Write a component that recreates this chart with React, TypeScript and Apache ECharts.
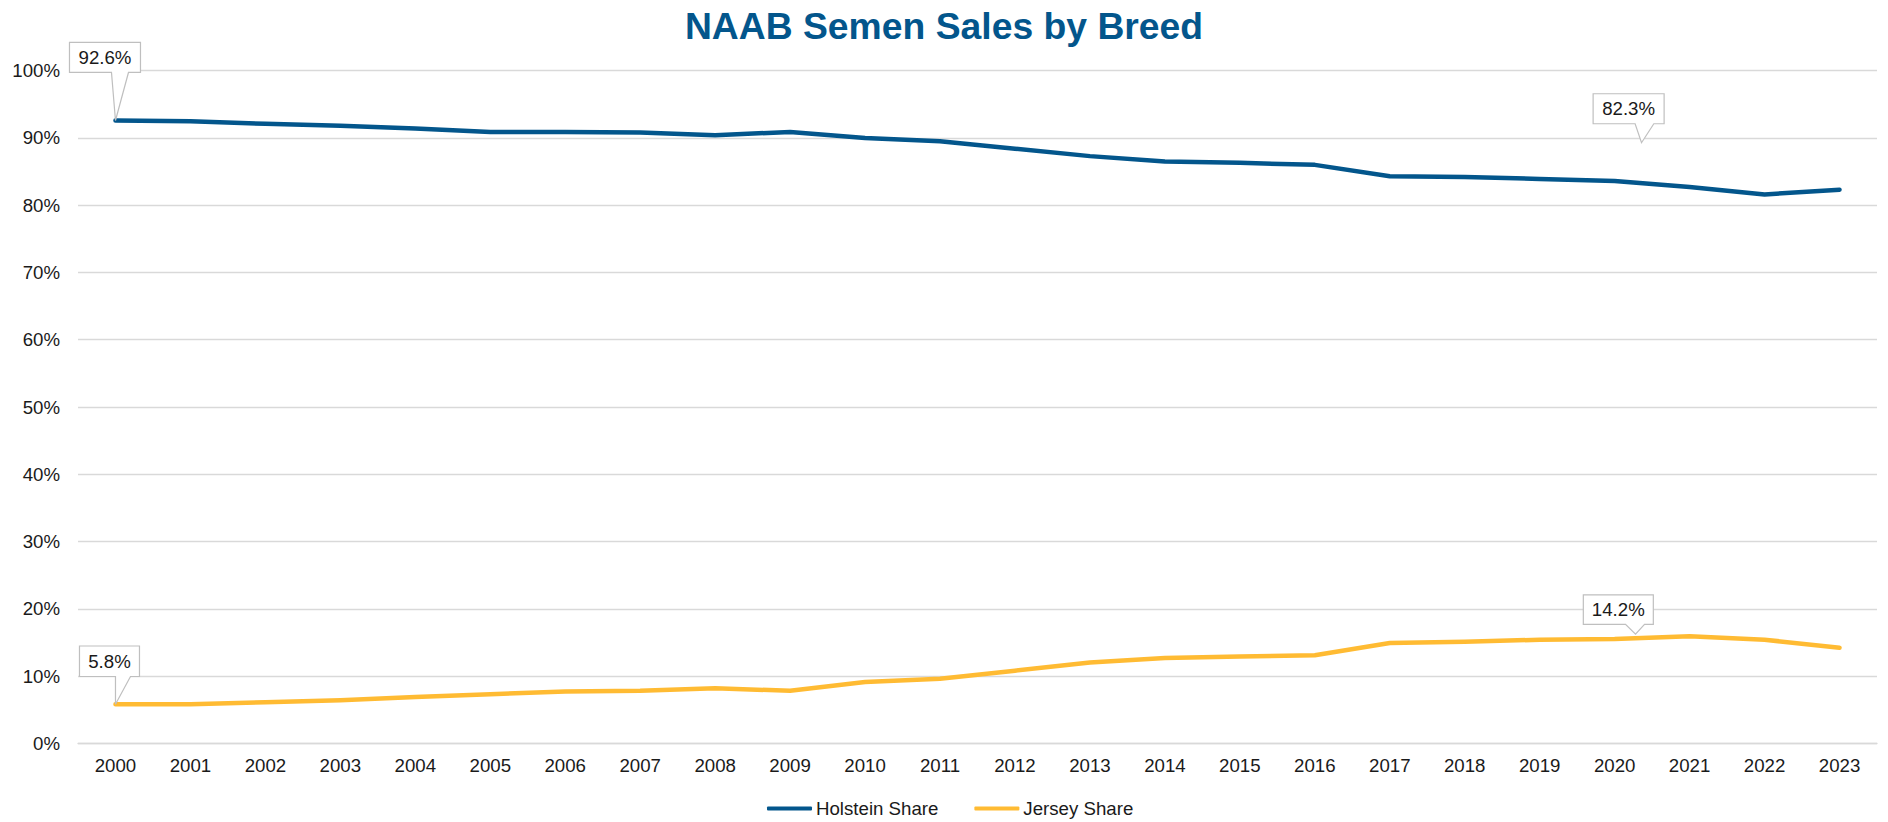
import React, { useEffect, useRef } from "react";
import * as echarts from "echarts";

const TITLE = "NAAB Semen Sales by Breed";
const years = ["2000","2001","2002","2003","2004","2005","2006","2007","2008","2009","2010","2011","2012","2013","2014","2015","2016","2017","2018","2019","2020","2021","2022","2023"];
const holsteinShare = [92.6, 92.5, 92.1, 91.8, 91.4, 90.9, 90.9, 90.8, 90.4, 90.9, 90.0, 89.5, 88.4, 87.3, 86.5, 86.3, 86.0, 84.3, 84.2, 83.9, 83.6, 82.7, 81.6, 82.3];
const jerseyShare = [5.8, 5.8, 6.1, 6.4, 6.9, 7.3, 7.7, 7.8, 8.2, 7.8, 9.1, 9.6, 10.8, 12.0, 12.7, 12.9, 13.1, 14.9, 15.1, 15.4, 15.5, 15.9, 15.4, 14.2];
const seriesNames = ["Holstein Share", "Jersey Share"];
const yMin = 0;
const yMax = 100;
const yStep = 10;

// callouts: which series / point they annotate
const calloutPoints = [
  { series: 0, index: 0 },
  { series: 0, index: 23 },
  { series: 1, index: 0 },
  { series: 1, index: 23 },
];
// callout layout (pixel offsets relative to anchor point)
const calloutLayout = [
  { left: -46, width: 71, top: -78, height: 30, base: [-4, 13], tip: [0, 0] },
  { left: -246.4, width: 71, top: -96, height: 30, base: [-204.4, -185.7], tip: [-198, -47] },
  { left: -36, width: 60, top: -58.3, height: 30.5, base: [0, 15], tip: [0, 0] },
  { left: -256.2, width: 70, top: -52.9, height: 29.5, base: [-214, -195], tip: [-204, -13.6] },
];

const BLUE = "#03568C";
const GOLD = "#FFBB33";
const FONT = "'Liberation Sans', Arial, sans-serif";
const TEXT = "#1A1A1A";
const GRID = "#D9D9D9";

export default function App() {
  const ref = useRef<HTMLDivElement>(null);
  useEffect(() => {
    document.body.style.margin = "0";
    const el = ref.current!;
    const chart = echarts.init(el, null, { renderer: "svg" });
    const seriesData = [holsteinShare, jerseyShare];
    chart.setOption({
      animation: false,
      backgroundColor: "#fff",
      textStyle: { fontFamily: FONT },
      title: {
        text: TITLE,
        left: "center",
        top: 2,
        textStyle: { fontFamily: FONT, fontSize: 37.3, fontWeight: "bold", color: BLUE },
      },
      grid: { left: 78, right: 11, top: 70.7, bottom: 78.7, containLabel: false },
      legend: {
        left: 767,
        top: 799,
        padding: 0,
        icon: "roundRect",
        itemWidth: 45,
        itemHeight: 4,
        itemGap: 36,
        textStyle: { fontFamily: FONT, fontSize: 18.67, color: TEXT, padding: [0, 0, 0, -1] },
        data: seriesNames,
      },
      xAxis: {
        type: "category",
        data: years,
        boundaryGap: true,
        axisTick: { show: false },
        axisLine: { show: true, lineStyle: { color: GRID, width: 1.3 } },
        axisLabel: { margin: 13, fontSize: 18.67, color: TEXT, fontFamily: FONT },
      },
      yAxis: {
        type: "value",
        min: yMin,
        max: yMax,
        interval: yStep,
        axisLabel: { formatter: "{value}%", margin: 18, fontSize: 18.67, color: TEXT, fontFamily: FONT },
        axisLine: { show: false },
        axisTick: { show: false },
        splitLine: { lineStyle: { color: GRID, width: 1.3 } },
      },
      series: [
        {
          name: seriesNames[0],
          type: "line",
          data: holsteinShare,
          showSymbol: false,
          symbol: "none",
          lineStyle: { color: BLUE, width: 4.5, cap: "round", join: "round" },
          itemStyle: { color: BLUE },
        },
        {
          name: seriesNames[1],
          type: "line",
          data: jerseyShare,
          showSymbol: false,
          symbol: "none",
          lineStyle: { color: GOLD, width: 4.5, cap: "round", join: "round" },
          itemStyle: { color: GOLD },
        },
      ],
    });

    const graphics: any[] = [];
    calloutPoints.forEach((cp, i) => {
      const val = seriesData[cp.series][cp.index];
      const [ax, ay] = chart.convertToPixel({ seriesIndex: cp.series }, [cp.index, val]) as number[];
      const g = calloutLayout[i];
      const L = ax + g.left;
      const R = L + g.width;
      const T = ay + g.top;
      const B = T + g.height;
      graphics.push({
        type: "polygon",
        z: 100,
        shape: {
          points: [
            [L, T], [R, T], [R, B], [ax + g.base[1], B], [ax + g.tip[0], ay + g.tip[1]], [ax + g.base[0], B], [L, B],
          ],
        },
        style: { fill: "#fff", stroke: "#BFBFBF", lineWidth: 1.2 },
      });
      graphics.push({
        type: "text",
        z: 101,
        x: L + g.width / 2,
        y: T + g.height / 2,
        style: {
          text: val.toFixed(1) + "%",
          fontFamily: FONT,
          fontSize: 18.67,
          fill: TEXT,
          align: "center",
          verticalAlign: "middle",
        },
      });
    });
    chart.setOption({ graphic: graphics });

    return () => chart.dispose();
  }, []);
  return <div ref={ref} style={{ width: 1888, height: 822 }} />;
}
